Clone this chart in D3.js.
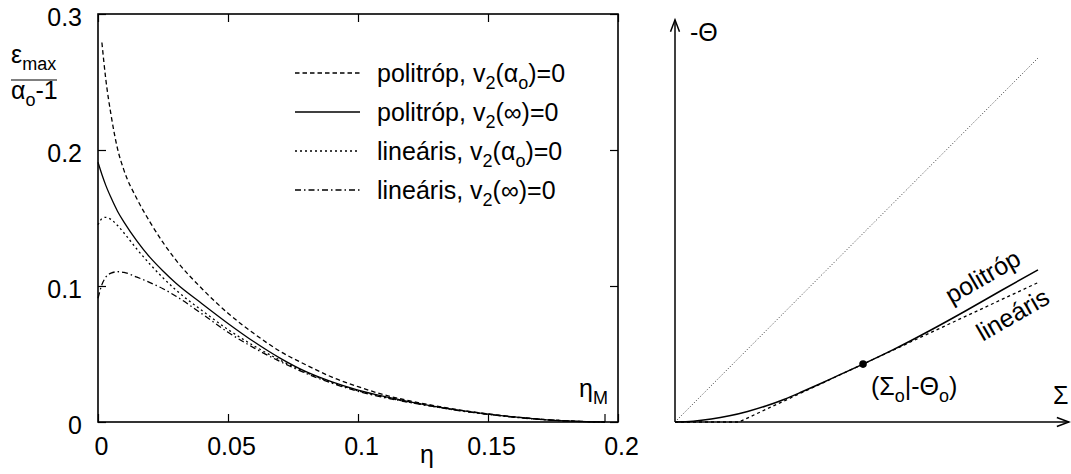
<!DOCTYPE html>
<html><head><meta charset="utf-8">
<script src="https://cdn.jsdelivr.net/npm/d3@7"></script>
<style>
body{margin:0;background:#fff}
text{font-family:"Liberation Sans",Arial,Helvetica,sans-serif;fill:#000}
</style>
</head><body>
<svg id="c" width="1071" height="474"></svg>
<script>
// ---------- data: left panel ----------
const etaTicks = [0, 0.05, 0.1, 0.15, 0.2];
const etaTickLabels = ["0", "0.05", "0.1", "0.15", "0.2"];
const epsTicks = [0, 0.1, 0.2, 0.3];
const epsTickLabels = ["0", "0.1", "0.2", "0.3"];
const etaM = 0.195;

const eta = [0, 0.0015, 0.003, 0.005, 0.0075, 0.01, 0.015, 0.02, 0.025, 0.03, 0.04, 0.05, 0.06, 0.07, 0.08, 0.09, 0.1, 0.11, 0.12, 0.13, 0.14, 0.15, 0.16, 0.17, 0.18, 0.19, 0.195];
const politropAlpha = [null, 0.279, 0.252, 0.226, 0.201, 0.185, 0.164, 0.147, 0.132, 0.119, 0.098, 0.080, 0.065, 0.052, 0.042, 0.033, 0.026, 0.0200, 0.0155, 0.0118, 0.0086, 0.0060, 0.0038, 0.0021, 0.0009, 0.0002, 0];
const politropInf = [0.191, 0.182, 0.174, 0.165, 0.155, 0.147, 0.133, 0.121, 0.111, 0.102, 0.087, 0.0725, 0.059, 0.047, 0.037, 0.0295, 0.0235, 0.0188, 0.0148, 0.0113, 0.0083, 0.0058, 0.0037, 0.0020, 0.0008, 0.0001, 0];
const linearisAlpha = [0.145, 0.1495, 0.1505, 0.149, 0.1445, 0.139, 0.127, 0.116, 0.106, 0.097, 0.082, 0.068, 0.056, 0.0455, 0.0365, 0.029, 0.023, 0.0183, 0.0145, 0.0111, 0.0081, 0.0057, 0.0036, 0.0020, 0.0008, 0.0001, 0];
const linearisInf = [0.091, 0.101, 0.1065, 0.1095, 0.1105, 0.110, 0.1065, 0.1025, 0.098, 0.0925, 0.0795, 0.066, 0.0545, 0.0445, 0.0358, 0.0285, 0.0226, 0.0180, 0.0143, 0.0110, 0.0080, 0.0056, 0.0035, 0.0019, 0.0008, 0.0001, 0];

// legend names as [text, isSubscript] segments
const seriesNames = [
  [["politróp, v", 0], ["2", 1], ["(α", 0], ["o", 1], [")=0", 0]],
  [["politróp, v", 0], ["2", 1], ["(∞)=0", 0]],
  [["lineáris, v", 0], ["2", 1], ["(α", 0], ["o", 1], [")=0", 0]],
  [["lineáris, v", 0], ["2", 1], ["(∞)=0", 0]]
];
const seriesValues = [politropAlpha, politropInf, linearisAlpha, linearisInf];
const seriesDash = ["4.5,3", null, "2,3", "6,3,1.5,3"];

// ---------- data: right panel ----------
const sigma = [0, 0.05, 0.1, 0.15, 0.2, 0.25, 0.3, 0.35, 0.4, 0.45, 0.518, 0.6, 0.7, 0.8, 0.9, 1.0];
const thetaPolitrop = [0, 0.002, 0.008, 0.017, 0.029, 0.044, 0.062, 0.083, 0.105, 0.128, 0.159, 0.198, 0.250, 0.305, 0.362, 0.418];
const sigmaLinearis = [0, 0.176, 0.518, 1.0];
const thetaLinearis = [0, 0, 0.159, 0.383];
const diagSigma = [0, 1];
const diagTheta = [0, 1];
const point0 = {sigma: 0.518, theta: 0.159};

// ---------- drawing ----------
const FS = 25, SUB = 18;
const svg = d3.select("#c");

function richText(sel, segs) {
  let down = false;
  segs.forEach(([p, sub]) => {
    const t = sel.append("tspan").text(p).attr("font-size", sub ? SUB : FS);
    if (sub && !down) { t.attr("dy", FS * 0.26); down = true; }
    else if (!sub && down) { t.attr("dy", -FS * 0.26); down = false; }
  });
}

const x = d3.scaleLinear().domain([0, 0.2]).range([98, 618]);
const y = d3.scaleLinear().domain([0, 0.3]).range([422, 14]);

const gL = svg.append("g");

const tickStyle = g => { g.select(".domain").remove(); g.selectAll("line").attr("stroke", "#000").attr("stroke-width", 1.2); };
const labelStyle = g => g.selectAll("text").attr("font-size", FS)
  .style("font-family", '"Liberation Sans",Arial,sans-serif').attr("fill", "#000");

gL.append("g").attr("transform", `translate(0,${y(0)})`)
  .call(d3.axisBottom(x).tickValues(etaTicks).tickSizeInner(-8).tickSizeOuter(0).tickPadding(15)
    .tickFormat((d, i) => etaTickLabels[i]))
  .call(tickStyle).call(labelStyle)
  .call(g => g.selectAll("text").attr("dx", 3));
gL.append("g").attr("transform", `translate(0,${y(0.3)})`)
  .call(d3.axisTop(x).tickValues(etaTicks).tickSizeInner(-8).tickSizeOuter(0).tickFormat(""))
  .call(tickStyle);
gL.append("g").attr("transform", `translate(${x(0)},0)`)
  .call(d3.axisLeft(y).tickValues(epsTicks).tickSizeInner(-8).tickSizeOuter(0).tickPadding(16)
    .tickFormat((d, i) => epsTickLabels[i]))
  .call(tickStyle).call(labelStyle)
  .call(g => g.selectAll("text").attr("dy", "0.46em"));
gL.append("g").attr("transform", `translate(${x(0.2)},0)`)
  .call(d3.axisRight(y).tickValues(epsTicks).tickSizeInner(-8).tickSizeOuter(0).tickFormat(""))
  .call(tickStyle);
gL.append("line").attr("x1", x(etaM)).attr("x2", x(etaM)).attr("y1", y(0)).attr("y2", y(0) - 8)
  .attr("stroke", "#000").attr("stroke-width", 1.2);

const lineL = d3.line()
  .defined(d => d[1] !== null)
  .x(d => x(d[0])).y(d => y(d[1]))
  .curve(d3.curveMonotoneX);
seriesValues.forEach((vals, k) => {
  gL.append("path")
    .datum(eta.map((e, i) => [e, vals[i]]))
    .attr("d", lineL)
    .attr("fill", "none").attr("stroke", "#000").attr("stroke-width", 1.3)
    .attr("stroke-dasharray", seriesDash[k]);
});

gL.append("rect").attr("x", x(0)).attr("y", y(0.3)).attr("width", x(0.2) - x(0)).attr("height", y(0) - y(0.3))
  .attr("fill", "none").attr("stroke", "#000").attr("stroke-width", 1.6);

seriesNames.forEach((segs, k) => {
  const cy = 73 + k * 39;
  gL.append("line").attr("x1", 295).attr("x2", 360).attr("y1", cy).attr("y2", cy)
    .attr("stroke", "#000").attr("stroke-width", 1.3).attr("stroke-dasharray", seriesDash[k]);
  const t = gL.append("text").attr("x", 377).attr("y", cy + 9).attr("font-size", FS);
  richText(t, segs);
});

richText(gL.append("text").attr("x", 11).attr("y", 63).attr("font-size", FS), [["ε", 0], ["max", 1]]);
gL.append("line").attr("x1", 11).attr("x2", 57).attr("y1", 80).attr("y2", 80).attr("stroke", "#000").attr("stroke-width", 1.2);
richText(gL.append("text").attr("x", 11).attr("y", 99).attr("font-size", FS), [["α", 0], ["o", 1], ["-1", 0]]);
gL.append("text").attr("x", 427).attr("y", 463).attr("font-size", FS).attr("text-anchor", "middle").text("η");
richText(gL.append("text").attr("x", 579).attr("y", 397).attr("font-size", FS), [["η", 0], ["M", 1]]);

// ---------- right panel ----------
const xR = d3.scaleLinear().domain([0, 1]).range([675, 1038]);
const yR = d3.scaleLinear().domain([0, 1]).range([422, 58]);
const sigmaAxisEnd = 1.085, thetaAxisEnd = 1.105;
const gR = svg.append("g");

gR.append("line").attr("x1", xR(0)).attr("y1", yR(0)).attr("x2", xR(sigmaAxisEnd)).attr("y2", yR(0))
  .attr("stroke", "#000").attr("stroke-width", 1.5);
gR.append("line").attr("x1", xR(0)).attr("y1", yR(0)).attr("x2", xR(0)).attr("y2", yR(thetaAxisEnd))
  .attr("stroke", "#000").attr("stroke-width", 1.5);
const tipX = [xR(sigmaAxisEnd), yR(0)], tipY = [xR(0), yR(thetaAxisEnd)];
gR.append("path").attr("d", `M${tipX[0] - 12},${tipX[1] - 4.5}L${tipX[0]},${tipX[1]}L${tipX[0] - 12},${tipX[1] + 4.5}`)
  .attr("fill", "none").attr("stroke", "#000").attr("stroke-width", 1.5);
gR.append("path").attr("d", `M${tipY[0] - 4.5},${tipY[1] + 12}L${tipY[0]},${tipY[1]}L${tipY[0] + 4.5},${tipY[1] + 12}`)
  .attr("fill", "none").attr("stroke", "#000").attr("stroke-width", 1.5);

gR.append("path").datum(diagSigma.map((s, i) => [s, diagTheta[i]]))
  .attr("d", d3.line().x(d => xR(d[0])).y(d => yR(d[1])))
  .attr("fill", "none").attr("stroke", "#333").attr("stroke-width", 1).attr("stroke-dasharray", "1,2");
gR.append("path").datum(sigmaLinearis.map((s, i) => [s, thetaLinearis[i]]))
  .attr("d", d3.line().x(d => xR(d[0])).y(d => yR(d[1])))
  .attr("fill", "none").attr("stroke", "#000").attr("stroke-width", 1.3).attr("stroke-dasharray", "3,3");
gR.append("path").datum(sigma.map((s, i) => [s, thetaPolitrop[i]]))
  .attr("d", d3.line().x(d => xR(d[0])).y(d => yR(d[1])).curve(d3.curveMonotoneX))
  .attr("fill", "none").attr("stroke", "#000").attr("stroke-width", 1.5);
gR.append("circle").attr("cx", xR(point0.sigma)).attr("cy", yR(point0.theta)).attr("r", 3.8).attr("fill", "#000");

gR.append("text").attr("x", 690).attr("y", 41).attr("font-size", FS).text("-Θ");
gR.append("text").attr("x", 1053).attr("y", 404).attr("font-size", FS).text("Σ");
richText(gR.append("text").attr("x", 871).attr("y", 395).attr("font-size", FS),
  [["(Σ", 0], ["o", 1], ["|-Θ", 0], ["o", 1], [")", 0]]);
gR.append("text").attr("transform", "translate(983,277) rotate(-30)").attr("y", 8)
  .attr("font-size", FS).attr("text-anchor", "middle").text("politróp");
gR.append("text").attr("transform", "translate(1013,315) rotate(-30)").attr("y", 8)
  .attr("font-size", FS).attr("text-anchor", "middle").text("lineáris");
</script>
</body></html>
